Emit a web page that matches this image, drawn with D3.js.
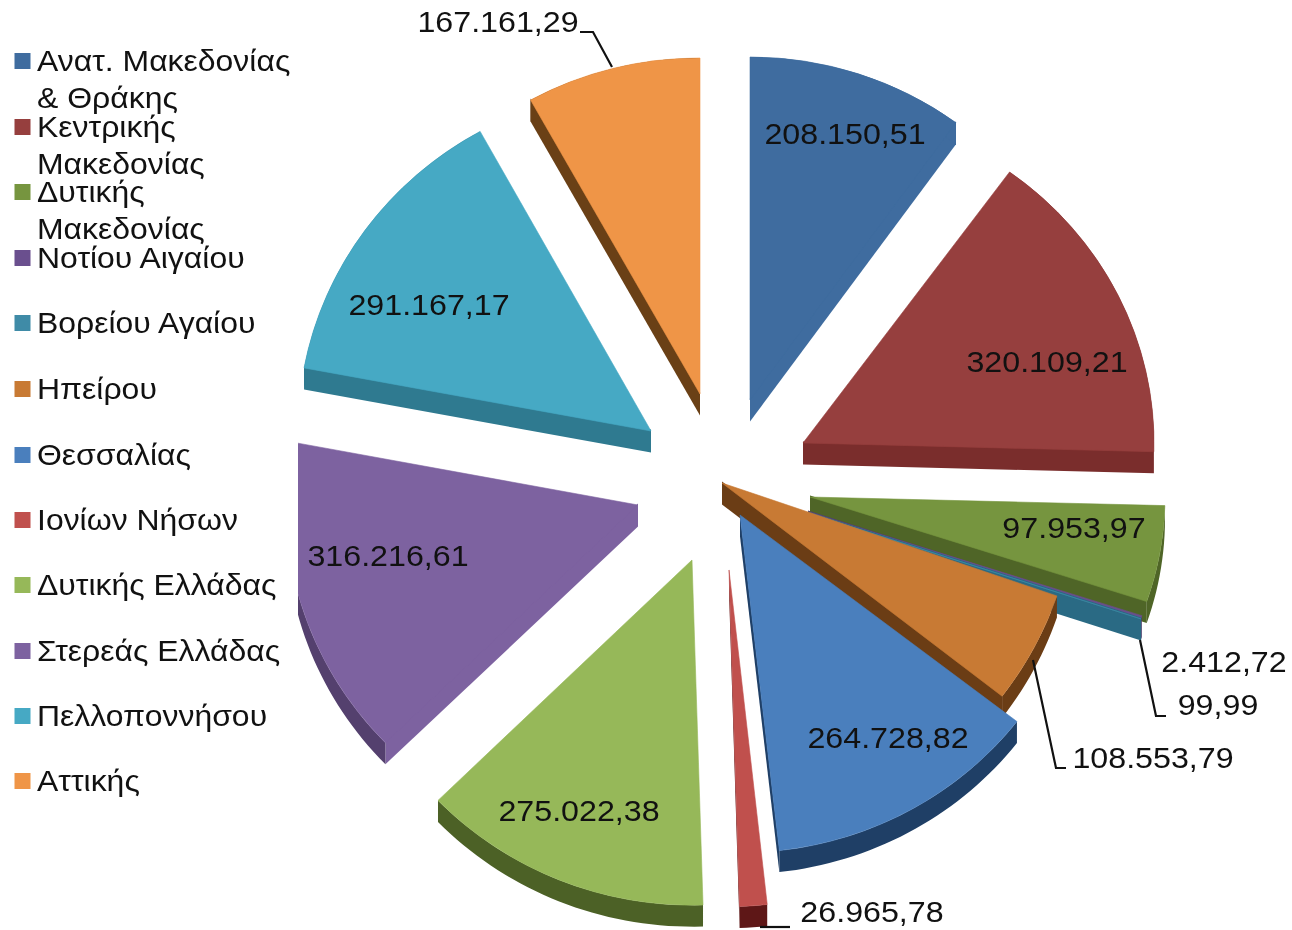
<!DOCTYPE html>
<html><head><meta charset="utf-8">
<style>html,body{margin:0;padding:0;background:#fff}svg{display:block;filter:blur(0.45px)}text{font-family:"Liberation Sans",Arial,sans-serif;fill:#111}</style>
<script src="https://cdn.jsdelivr.net/npm/d3@7"></script>
</head><body><svg id="c" width="1292" height="930"></svg>
<script>
const categories=["Ανατ. Μακεδονίας\n& Θράκης","Κεντρικής\nΜακεδονίας","Δυτικής\nΜακεδονίας","Νοτίου Αιγαίου","Βορείου Αγαίου","Ηπείρου","Θεσσαλίας","Ιονίων Νήσων","Δυτικής Ελλάδας","Στερεάς Ελλάδας","Πελλοποννήσου","Αττικής"];
const values=[208150.51,320109.21,97953.97,2412.72,99.99,108553.79,264728.82,26965.78,275022.38,316216.61,291167.17,167161.29];
const valueLabels=["208.150,51","320.109,21","97.953,97","2.412,72","99,99","108.553,79","264.728,82","26.965,78","275.022,38","316.216,61","291.167,17","167.161,29"];
const topColors=["#3f6c9f","#963f3e","#76953f","#6a4f8e","#3f8ba7","#c87a34","#4a7fbd","#c0504d","#96b859","#7d62a0","#46a9c4","#ef9547"];
const outerColors=["#3f6c9f","#7a2d2c","#4f6527","#54406e","#2f6f87","#6b3d15","#1f3f66","#5e1717","#4c6126","#54406e","#2f7a90","#6a4016"];
const cutColors=["#3f6c9f","#7a2d2c","#4f6527","#54406e","#2a6a84","#6b3d15","#1f3f66","#5e1717","#4c6126","#7d62a0","#2f7a90","#6a4016"];
const offsetX=[28,81,88,86,86,0,18,7,-30,-84,-71,-22];
const offsetY=[-83,-40,14,29,30,0,32,87,77,22,-52,-89];
const radii=[350,351,355,352,352,354,350,340,354,352,353,350];
const yScales=[0.98,0.955,0.93,0.93,0.93,0.985,0.965,0.99,0.975,0.97,0.97,0.96];
const labelAnchors=[[845,133],[1047,361],[1074,527],[1224,661],[1218,704],[1153,757],[888,737],[872,911],[579,810],[388,555],[429,304],[498,21]];
const leaderPaths=[[[580,32],[593,32],[612,67]],[[1033,660],[1056,768],[1066,768]],[[1140,640],[1156,716],[1166,716]],[[760,927],[790,927]]];
const legendRows=[61,127,192,258,323,389,455,520,585,651,716,781];

const svg=d3.select("#c");
const cx=722,cy=483,depth=21.5;
svg.append("clipPath").attr("id","pieClip").append("rect").attr("x",298).attr("y",0).attr("width",994).attr("height",930);
const g=svg.append("g").attr("clip-path","url(#pieClip)");
const pie=d3.pie().sort(null).value(d=>d)(values);
const line=d3.line();
pie.forEach((d,i)=>{
  const r=radii[i],ys=yScales[i];
  const pt=a=>[r*Math.sin(a),-r*Math.cos(a)*ys];
  const s=g.append("g").attr("transform",`translate(${cx+offsetX[i]},${cy+offsetY[i]})`);
  const m=pt((d.startAngle+d.endAngle)/2);
  const lip=1.5;
  // a cut face shows only when the slice's interior lies above that edge
  [pt(d.startAngle),pt(d.endAngle)].forEach(p=>{
    const crossM=p[0]*m[1]-p[1]*m[0], crossDown=p[0];
    if(crossM*crossDown<0){
      s.append("path").attr("d",line([[0,-lip],[p[0],p[1]-lip],[p[0],p[1]+depth],[0,depth]])+"Z").attr("fill",cutColors[i]);
    }
  });
  const n=Math.max(2,Math.ceil((d.endAngle-d.startAngle)*40));
  const arcPts=d3.range(n+1).map(k=>pt(d.startAngle+(d.endAngle-d.startAngle)*k/n));
  const band=arcPts.concat(arcPts.slice().reverse().map(p=>[p[0],p[1]+depth]));
  s.append("path").attr("d",line(band)+"Z").attr("fill",outerColors[i]);
  s.append("path").attr("d",d3.arc().innerRadius(0).outerRadius(r)(d)).attr("transform",`scale(1,${ys})`)
    .attr("fill",topColors[i]).attr("stroke",topColors[i]).attr("stroke-width",0.6);
});
leaderPaths.forEach(p=>svg.append("path").attr("d",line(p)).attr("fill","none").attr("stroke","#111").attr("stroke-width",2.2));
valueLabels.forEach((t,i)=>{
  const [x,y]=labelAnchors[i];
  svg.append("text").attr("transform",`translate(${x},${y+11}) scale(1.074,1)`).attr("text-anchor","middle").attr("font-size",30).text(t);
});
categories.forEach((c,i)=>{
  svg.append("rect").attr("x",14.5).attr("y",legendRows[i]-8).attr("width",16).attr("height",16).attr("fill",topColors[i]);
  c.split("\n").forEach((l,k)=>svg.append("text").attr("transform",`translate(37,${legendRows[i]+10+k*37}) scale(1.065,1)`).attr("font-size",30).text(l));
});
</script></body></html>
